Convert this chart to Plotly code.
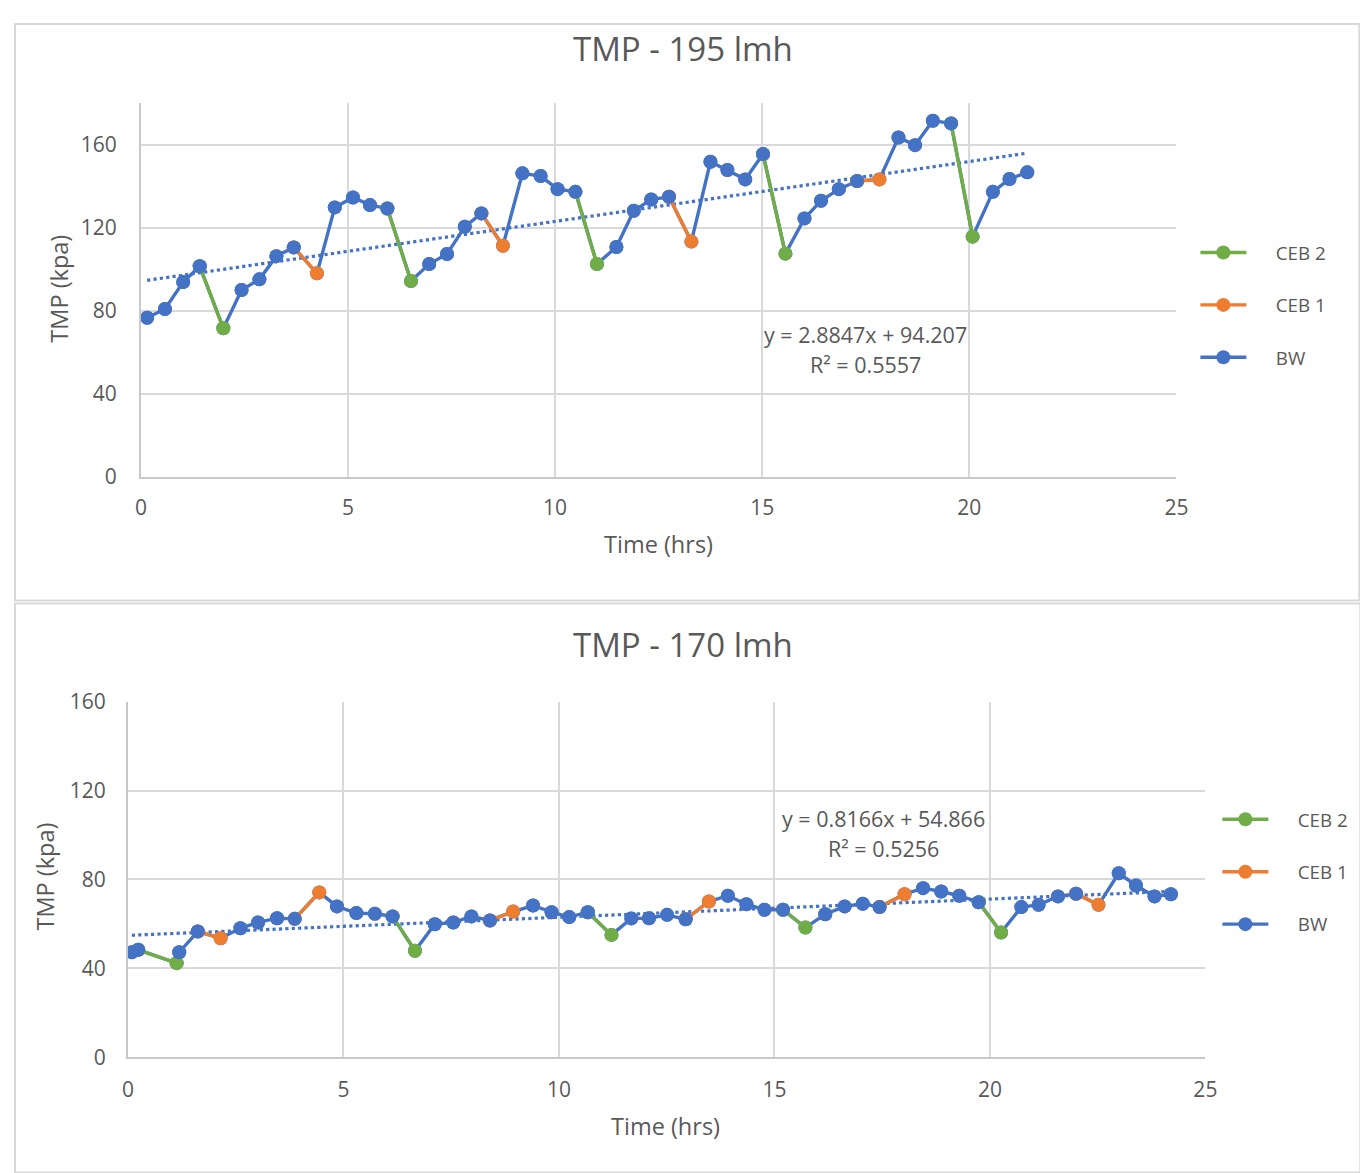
import plotly.graph_objects as go

# ---------------- data ----------------
top_time = [0.15, 0.58, 1.02, 1.42, 1.99, 2.43, 2.86, 3.27, 3.69, 4.25,
            4.68, 5.12, 5.53, 5.95, 6.52, 6.96, 7.39, 7.82, 8.22, 8.74,
            9.21, 9.65, 10.06, 10.49, 11.01, 11.48, 11.90, 12.32, 12.75, 13.29,
            13.75, 14.16, 14.59, 15.02, 15.56, 16.02, 16.42, 16.85, 17.29, 17.83,
            18.29, 18.69, 19.12, 19.56, 20.08, 20.57, 20.97, 21.40]
top_tmp = [76.6, 80.8, 93.8, 101.4, 71.5, 90.0, 95.1, 106.3, 110.5, 98.0,
           129.8, 134.6, 130.9, 129.3, 94.3, 102.5, 107.3, 120.5, 126.9, 111.3,
           146.2, 144.9, 138.6, 137.3, 102.5, 110.7, 128.2, 133.6, 134.9, 113.3,
           151.8, 147.8, 143.3, 155.5, 107.5, 124.5, 133.0, 138.6, 142.5, 143.3,
           163.5, 159.8, 171.6, 170.3, 115.7, 137.3, 143.5, 146.7]
top_step = ["BW", "BW", "BW", "BW", "CEB 2", "BW", "BW", "BW", "BW", "CEB 1",
            "BW", "BW", "BW", "BW", "CEB 2", "BW", "BW", "BW", "BW", "CEB 1",
            "BW", "BW", "BW", "BW", "CEB 2", "BW", "BW", "BW", "BW", "CEB 1",
            "BW", "BW", "BW", "BW", "CEB 2", "BW", "BW", "BW", "BW", "CEB 1",
            "BW", "BW", "BW", "BW", "CEB 2", "BW", "BW", "BW"]
top_trend_slope, top_trend_intercept, top_r2 = 2.8847, 94.207, 0.5557

bottom_time = [0.09, 0.24, 1.13, 1.19, 1.62, 2.15, 2.61, 3.02, 3.46, 3.87,
               4.44, 4.85, 5.30, 5.73, 6.14, 6.66, 7.12, 7.55, 7.97, 8.40,
               8.94, 9.40, 9.83, 10.24, 10.67, 11.22, 11.68, 12.09, 12.51, 12.94,
               13.48, 13.92, 14.35, 14.77, 15.20, 15.72, 16.18, 16.63, 17.05, 17.44,
               18.02, 18.45, 18.87, 19.29, 19.74, 20.26, 20.73, 21.13, 21.58, 22.00,
               22.52, 22.99, 23.39, 23.82, 24.20]
bottom_tmp = [47.3, 48.4, 42.4, 47.3, 56.6, 53.6, 58.1, 60.7, 62.6, 62.3,
              74.2, 67.9, 64.9, 64.6, 63.4, 48.0, 59.9, 60.7, 63.4, 61.6,
              65.6, 68.3, 65.3, 63.1, 65.3, 55.1, 62.5, 62.6, 64.1, 62.1,
              70.1, 72.7, 68.9, 66.4, 66.4, 58.4, 64.4, 67.9, 69.1, 67.6,
              73.4, 76.1, 74.6, 72.7, 69.8, 56.2, 67.6, 68.6, 72.4, 73.6,
              68.6, 82.8, 77.3, 72.4, 73.4]
bottom_step = ["BW", "BW", "CEB 2", "BW", "BW", "CEB 1", "BW", "BW", "BW", "BW",
               "CEB 1", "BW", "BW", "BW", "BW", "CEB 2", "BW", "BW", "BW", "BW",
               "CEB 1", "BW", "BW", "BW", "BW", "CEB 2", "BW", "BW", "BW", "BW",
               "CEB 1", "BW", "BW", "BW", "BW", "CEB 2", "BW", "BW", "BW", "BW",
               "CEB 1", "BW", "BW", "BW", "BW", "CEB 2", "BW", "BW", "BW", "BW",
               "CEB 1", "BW", "BW", "BW", "BW"]
bottom_trend_slope, bottom_trend_intercept, bottom_r2 = 0.8166, 54.866, 0.5256

x_ticks = [0, 5, 10, 15, 20, 25]
y_ticks = [0, 40, 80, 120, 160]

# ---------------- layout geometry ----------------
OFF = 8                              # page body margin
SX, AX, SY, AY = 0.9874, 6.1, 0.9766, 13.4   # page -> picture mapping
W, H = 1372, 1180
FONT = "Open Sans"
TXT = "#595959"
GRID = "#d9d9d9"
COLORS = {"BW": "#4472C4", "CEB 1": "#ED7D31", "CEB 2": "#70AD47"}
RANK = {"CEB 2": 1, "CEB 1": 2, "BW": 3}
LW = 3.4
MS = 14


def fx(x):
    return (x - AX) / SX - OFF


def fy(y):
    return (y - AY) / SY - OFF


def px(x):
    return max(fx(x), 1) / W


def py(y):
    return 1 - max(fy(y), 1) / H


fig = go.Figure()


def add_chart(t, v, step, slope, intercept, xa, ya, legend):
    pad = "\u00a0" * 5
    fig.add_trace(go.Scatter(
        x=t, y=v, mode="lines+markers", name=pad + "BW",
        line=dict(color=COLORS["BW"], width=LW),
        marker=dict(color=COLORS["BW"], size=MS),
        xaxis=xa, yaxis=ya, legend=legend, legendrank=RANK["BW"],
        legendgroup=legend + "BW", hoverinfo="skip"))
    tx = [t[0], t[-1]]
    ty = [slope * x + intercept for x in tx]
    fig.add_trace(go.Scatter(
        x=tx, y=ty, mode="lines", showlegend=False,
        line=dict(color=COLORS["BW"], width=3.2, dash="dot"),
        xaxis=xa, yaxis=ya, hoverinfo="skip"))
    for name in ["CEB 1", "CEB 2"]:
        sx, sy = [], []
        for i, s in enumerate(step):
            if s == name and i > 0:
                sx += [t[i], t[i - 1], None]
                sy += [v[i], v[i - 1], None]
        fig.add_trace(go.Scatter(
            x=sx, y=sy, mode="lines+markers", name=pad + name,
            line=dict(color=COLORS[name], width=LW),
            marker=dict(color=COLORS[name], size=MS),
            xaxis=xa, yaxis=ya, legend=legend, legendrank=RANK[name],
            legendgroup=legend + name, hoverinfo="skip"))
    bx = [t[i] for i, s in enumerate(step) if s == "BW"]
    by = [v[i] for i, s in enumerate(step) if s == "BW"]
    fig.add_trace(go.Scatter(
        x=bx, y=by, mode="markers", showlegend=False,
        marker=dict(color=COLORS["BW"], size=MS),
        xaxis=xa, yaxis=ya, hoverinfo="skip"))


add_chart(top_time, top_tmp, top_step, top_trend_slope, top_trend_intercept, "x", "y", "legend")
add_chart(bottom_time, bottom_tmp, bottom_step, bottom_trend_slope, bottom_trend_intercept, "x2", "y2", "legend2")

axis_common = dict(showgrid=True, gridcolor=GRID, gridwidth=2, zeroline=False,
                   showline=True, linecolor="#c8c8c8", linewidth=2,
                   ticks="outside", tickcolor="rgba(0,0,0,0)",
                   tickfont=dict(family=FONT, size=21, color=TXT), fixedrange=True)

legend_common = dict(xanchor="left", yanchor="top",
                     font=dict(family=FONT, size=18.8, color=TXT),
                     tracegroupgap=25, itemwidth=46, bgcolor="rgba(0,0,0,0)")

fig.update_layout(
    width=W, height=H, autosize=False,
    margin=dict(l=0, r=0, t=0, b=0),
    paper_bgcolor="white", plot_bgcolor="white",
    font=dict(family=FONT, color=TXT),
    xaxis=dict(domain=[px(141), px(1177)], range=[0, 25], tickvals=x_ticks,
               anchor="y", ticklen=11, **axis_common),
    yaxis=dict(domain=[py(475), py(101.5)], range=[0, 180], tickvals=y_ticks,
               anchor="x", ticklen=18, **axis_common),
    xaxis2=dict(domain=[px(128), px(1206)], range=[0, 25], tickvals=x_ticks,
                anchor="y2", ticklen=12, **axis_common),
    yaxis2=dict(domain=[py(1056), py(700)], range=[0, 160], tickvals=y_ticks,
                anchor="x2", ticklen=16, **axis_common),
    legend=dict(x=px(1196), y=py(232), **legend_common),
    legend2=dict(x=px(1218), y=py(799), **legend_common),
    showlegend=True,
)

# panel borders
fig.add_shape(type="rect", xref="paper", yref="paper",
              x0=px(8), x1=px(1360), y0=py(599), y1=py(4),
              line=dict(color=GRID, width=2), layer="below")
fig.add_shape(type="rect", xref="paper", yref="paper",
              x0=px(8), x1=px(1361), y0=py(1171), y1=py(602),
              line=dict(color=GRID, width=2), layer="below")


def note(text, x, y, size, angle=0):
    fig.add_annotation(text=text, x=px(x), y=py(y), xref="paper", yref="paper",
                       showarrow=False, xanchor="center", yanchor="middle",
                       textangle=angle, font=dict(family=FONT, size=size, color=TXT))


note("TMP - 195 lmh", 683, 47, 33)
note("TMP - 170 lmh", 683, 643, 33)
note("TMP (kpa)", 59, 287, 23.5, -90)
note("TMP (kpa)", 46, 875, 23.5, -90)
note("Time (hrs)", 659, 542, 23.5)
note("Time (hrs)", 666, 1125, 23.5)
note(f"y = {top_trend_slope}x + {top_trend_intercept}", 866, 333, 21.5)
note(f"R² = {top_r2}", 866, 363, 21.5)
note(f"y = {bottom_trend_slope}x + {bottom_trend_intercept}", 884, 817, 21.5)
note(f"R² = {bottom_r2}", 884, 847, 21.5)

fig.write_html("out.html")
